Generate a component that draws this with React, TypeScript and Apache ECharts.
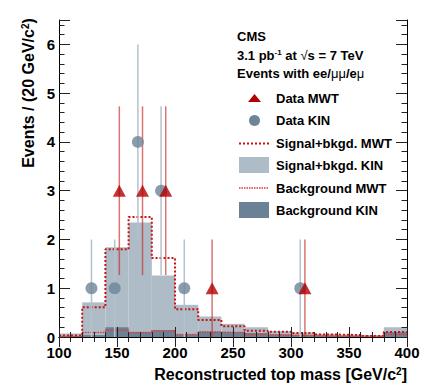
import React, { useEffect, useRef } from "react";
import * as echarts from "echarts";

// ---- data ----
const binLow = [100, 120, 140, 160, 180, 200, 220, 240, 260, 280, 300, 320, 340, 360, 380];
const binWidth = 20;
const sigBkgKIN = [0.07, 0.71, 1.84, 2.35, 1.26, 0.66, 0.42, 0.27, 0.2, 0.12, 0.09, 0.065, 0.05, 0.04, 0.2];
const sigBkgMWT = [0.03, 0.61, 1.8, 2.46, 1.62, 0.57, 0.35, 0.22, 0.13, 0.11, 0.08, 0.05, 0.04, 0.02, 0.1];
const bkgKIN = [0.02, 0.04, 0.2, 0.1, 0.14, 0.055, 0.11, 0.1, 0.08, 0.05, 0.04, 0.03, 0.02, 0.01, 0.1];
const bkgMWT = [0.01, 0.09, 0.14, 0.09, 0.13, 0.05, 0.1, 0.09, 0.05, 0.04, 0.03, 0.02, 0.015, 0.01, 0.05];

const mwtX = [152, 172, 192, 232, 312];
const mwtY = [3, 3, 3, 1, 1];
const mwtLo = [1.27, 1.27, 1.27, 0, 0];
const mwtHi = [4.73, 4.73, 4.73, 2, 2];

const kinX = [128, 148, 168, 188, 208, 308];
const kinY = [1, 1, 4, 3, 1, 1];
const kinLo = [0, 0, 2, 1.27, 0, 0];
const kinHi = [2, 2, 6, 4.73, 2, 2];

const FONT = "'Liberation Sans', Arial, Helvetica, sans-serif";
const C_FILL = "#adbcc7";
const C_DARK = "#6b8296";
const C_CIRCLE = "#6c8599";
const C_TRI = "#b30000";
const C_RED = "#cc1111";
const C_RED2 = "#e03a3a";

function histRects(vals: number[]) {
  return binLow.map((b, i) => [b, b + binWidth, vals[i]]);
}
function stepPoints(vals: number[]) {
  const pts = binLow.map((b, i) => [b, vals[i]]);
  pts.push([binLow[binLow.length - 1] + binWidth, vals[vals.length - 1]]);
  return pts;
}

function histSeries(name: string, vals: number[], color: string, z: number) {
  return {
    name,
    type: "custom",
    xAxisIndex: 0,
    yAxisIndex: 0,
    z,
    data: histRects(vals),
    renderItem: (_p: any, api: any) => {
      const a = api.coord([api.value(0), api.value(2)]);
      const b = api.coord([api.value(1), 0]);
      return {
        type: "rect",
        shape: { x: a[0], y: a[1], width: b[0] - a[0], height: b[1] - a[1] },
        style: { fill: color },
      };
    },
  };
}

function errSeries(name: string, xs: number[], lo: number[], hi: number[], color: string, width: number, z: number) {
  return {
    name,
    type: "custom",
    xAxisIndex: 0,
    yAxisIndex: 0,
    z,
    data: xs.map((x, i) => [x, lo[i], hi[i]]),
    renderItem: (_p: any, api: any) => {
      const a = api.coord([api.value(0), api.value(1)]);
      const b = api.coord([api.value(0), api.value(2)]);
      return {
        type: "line",
        shape: { x1: a[0], y1: a[1], x2: b[0], y2: b[1] },
        style: { stroke: color, lineWidth: width },
      };
    },
  };
}

const tickColor = "#222";
function xAxisCfg(pos: "bottom" | "top", labels: boolean) {
  return {
    type: "value",
    position: pos,
    min: 100,
    max: 400,
    interval: 50,
    z: 10,
    axisLine: { show: true, lineStyle: { color: "#000", width: 1 } },
    axisTick: { show: true, inside: true, length: 10, lineStyle: { color: tickColor } },
    minorTick: { show: true, splitNumber: 5, length: 5, lineStyle: { color: tickColor } },
    splitLine: { show: false },
    axisLabel: {
      show: labels,
      margin: 8,
      color: "#000",
      fontFamily: FONT,
      fontWeight: "bold",
      fontSize: 15,
    },
  };
}
function yAxisCfg(pos: "left" | "right", interval: number, len: number, labels: boolean, line: boolean) {
  return {
    type: "value",
    position: pos,
    min: 0,
    max: 6.5,
    interval,
    z: 10,
    axisLine: { show: line, lineStyle: { color: "#000", width: 1 } },
    axisTick: { show: true, inside: true, length: len, lineStyle: { color: tickColor } },
    splitLine: { show: false },
    axisLabel: {
      show: labels,
      margin: 4,
      color: "#000",
      fontFamily: FONT,
      fontWeight: "bold",
      fontSize: 15,
      formatter: (v: number) => (Number.isInteger(v) ? String(v) : ""),
    },
  };
}

const txt = (text: string, x: number, y: number, size = 13, extra: any = {}) => ({
  type: "text",
  x,
  y,
  z: 100,
  style: {
    text,
    fill: "#000",
    font: `bold ${size}px ${FONT}`,
    verticalAlign: "middle",
    align: "left",
    ...extra,
  },
});

export default function App() {
  const ref = useRef<HTMLDivElement>(null);
  useEffect(() => {
    document.body.style.margin = "0";
    if (!ref.current) return;
    const chart = echarts.init(ref.current, undefined, { renderer: "svg" });
    const richBase = { fontFamily: FONT, fontWeight: "bold", color: "#000" };
    chart.setOption({
      animation: false,
      backgroundColor: "#fff",
      grid: { left: 59, right: 17, top: 20, bottom: 52, containLabel: false },
      xAxis: [xAxisCfg("bottom", true), xAxisCfg("top", false)],
      yAxis: [
        yAxisCfg("left", 1, 11, true, true),
        yAxisCfg("right", 1, 11, false, true),
        yAxisCfg("left", 0.2, 5.5, false, false),
        yAxisCfg("right", 0.2, 5.5, false, false),
      ],
      series: [
        histSeries("Signal+bkgd. KIN", sigBkgKIN, C_FILL, 1),
        histSeries("Background KIN", bkgKIN, C_DARK, 2),
        {
          name: "Signal+bkgd. MWT",
          type: "line",
          step: "end",
          z: 3,
          symbol: "none",
          data: stepPoints(sigBkgMWT),
          lineStyle: { color: C_RED, width: 2, type: [2, 2] },
        },
        {
          name: "Background MWT",
          type: "line",
          step: "end",
          z: 3,
          symbol: "none",
          data: stepPoints(bkgMWT),
          lineStyle: { color: C_RED2, width: 1.5, type: [1.5, 1] },
        },
        errSeries("KIN errors", kinX, kinLo, kinHi, "#b4c2cd", 1.5, 4),
        errSeries("MWT errors", mwtX, mwtLo, mwtHi, "rgba(200,40,40,0.65)", 1.5, 5),
        {
          name: "Data KIN",
          type: "scatter",
          z: 6,
          symbol: "circle",
          symbolSize: 12,
          itemStyle: { color: C_CIRCLE },
          data: kinX.map((x, i) => [x, kinY[i]]),
        },
        {
          name: "Data MWT",
          type: "scatter",
          z: 7,
          symbol: "triangle",
          symbolSize: [13, 12],
          itemStyle: { color: C_TRI },
          data: mwtX.map((x, i) => [x, mwtY[i]]),
        },
      ],
      graphic: [
        // axis titles
        {
          type: "text",
          x: 407,
          y: 374,
          z: 100,
          style: {
            text: "{t|Reconstructed top mass [GeV/c}{s|2}{t|]}",
            align: "right",
            verticalAlign: "middle",
            rich: {
              t: { ...richBase, fontSize: 16 },
              s: { ...richBase, fontSize: 10, verticalAlign: "top" },
            },
          },
        },
        {
          type: "text",
          x: 28,
          y: 93,
          rotation: Math.PI / 2,
          z: 100,
          style: {
            text: "{t|Events / (20 GeV/c}{s|2}{t|)}",
            align: "center",
            verticalAlign: "middle",
            rich: {
              t: { ...richBase, fontSize: 16 },
              s: { ...richBase, fontSize: 10, verticalAlign: "top" },
            },
          },
        },
        // header
        txt("CMS", 237, 36),
        {
          type: "text",
          x: 237,
          y: 55,
          z: 100,
          style: {
            text: "{t|3.1 pb}{s|-1}{t| at }{r|√}{o|s}{t| = 7 TeV}",
            verticalAlign: "middle",
            rich: {
              t: { ...richBase, fontSize: 13 },
              s: { ...richBase, fontSize: 8, verticalAlign: "top" },
              r: { ...richBase, fontWeight: "normal", fontSize: 13 },
              o: { ...richBase, fontSize: 13 },
            },
          },
        },
        {
          type: "text",
          x: 237,
          y: 73,
          z: 100,
          style: {
            text: "{t|Events with ee/}{m|μμ}{t|/e}{m|μ}",
            verticalAlign: "middle",
            rich: {
              t: { ...richBase, fontSize: 13 },
              m: { ...richBase, fontWeight: "normal", fontSize: 13 },
            },
          },
        },
        // legend symbols
        {
          type: "polygon",
          z: 100,
          shape: { points: [[248, 102], [261, 102], [254.5, 94]] },
          style: { fill: C_TRI },
        },
        { type: "circle", z: 100, shape: { cx: 254.5, cy: 120.5, r: 5.5 }, style: { fill: C_CIRCLE } },
        {
          type: "line",
          z: 100,
          shape: { x1: 239, y1: 143.5, x2: 269, y2: 143.5 },
          style: { stroke: C_RED, lineWidth: 2, lineDash: [2, 2] },
        },
        { type: "rect", z: 100, shape: { x: 239, y: 157, width: 30, height: 16 }, style: { fill: C_FILL } },
        {
          type: "line",
          z: 100,
          shape: { x1: 239, y1: 188, x2: 269, y2: 188 },
          style: { stroke: C_RED2, lineWidth: 1.5, lineDash: [1.5, 1] },
        },
        { type: "rect", z: 100, shape: { x: 239, y: 202, width: 30, height: 16 }, style: { fill: C_DARK } },
        // legend texts
        txt("Data MWT", 276, 98),
        txt("Data KIN", 276, 120),
        txt("Signal+bkgd. MWT", 276, 143),
        txt("Signal+bkgd. KIN", 276, 165),
        txt("Background MWT", 276, 188),
        txt("Background KIN", 276, 210),
      ],
    });
    return () => chart.dispose();
  }, []);
  return <div ref={ref} style={{ width: 424, height: 389 }} />;
}
